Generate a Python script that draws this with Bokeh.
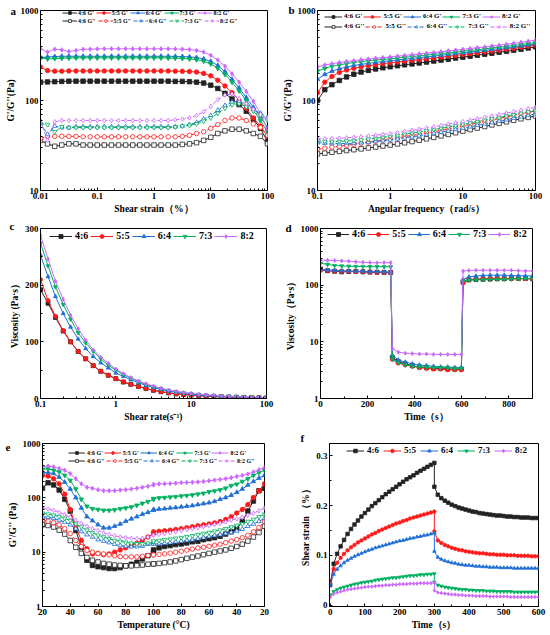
from bokeh.plotting import figure
from bokeh.layouts import column, row
from bokeh.models import (Range1d, FixedTicker, CustomJSTickFormatter, Legend,
                          LegendItem)
from bokeh.embed import file_html
from bokeh.resources import INLINE

SERIF = "Liberation Serif"

ratios = ["4:6", "5:5", "6:4", "7:3", "8:2"]
colors = ["#222222", "#FF1A1A", "#1F6FD6", "#00B060", "#CC66FF"]
markers = ["square", "circle", "triangle", "inverted_triangle", "diamond"]

# ---------------- panel a : strain sweep ----------------
strain_a = [0.01, 0.0133, 0.0178, 0.0237, 0.0316, 0.0422, 0.0562, 0.075, 0.1,
            0.133, 0.178, 0.237, 0.316, 0.422, 0.562, 0.75, 1, 1.33, 1.78, 2.37,
            3.16, 4.22, 5.62, 7.5, 10, 13.3, 17.8, 23.7, 31.6, 42.2, 56.2, 75, 100]
a_gp_46 = [160, 161, 162, 163, 164, 164, 164, 164, 164, 164, 164, 164, 164, 164, 164, 164, 164,
           164, 164, 163, 163, 162, 160, 156, 148, 136, 120, 104, 90, 76, 62, 49, 35]
a_gp_55 = [235, 215, 212, 212, 213, 213, 213, 213, 213, 213, 213, 213, 213, 213, 213, 213, 213,
           213, 213, 212, 211, 210, 207, 200, 188, 168, 145, 122, 100, 82, 64, 52, 40]
a_gp_64 = [300, 305, 308, 310, 310, 310, 310, 310, 310, 310, 310, 310, 310, 310, 310, 310, 310,
           310, 310, 309, 308, 305, 300, 290, 272, 245, 210, 172, 138, 108, 84, 66, 50]
a_gp_73 = [298, 290, 292, 295, 296, 297, 297, 297, 297, 297, 297, 297, 297, 297, 297, 297, 297,
           297, 296, 295, 293, 290, 284, 273, 255, 228, 195, 160, 128, 100, 78, 60, 45]
a_gp_82 = [375, 345, 372, 365, 350, 360, 370, 372, 374, 375, 375, 375, 375, 375, 375, 375, 375,
           375, 375, 374, 372, 368, 360, 345, 318, 282, 240, 198, 160, 126, 98, 72, 48]
a_gpp_46 = [36, 33, 31, 32, 33, 33, 32, 32, 32, 32, 32, 32, 32, 32, 32, 32, 32,
            32, 32, 32, 32.5, 33, 34, 36, 39, 43, 46, 48, 48, 46, 43, 40, 33]
a_gpp_55 = [38, 40, 40, 40, 40, 40, 39.5, 39.5, 39.5, 39.5, 39.5, 39.5, 39.5, 39.5, 39.5, 39.5, 39.5,
            39.5, 39.5, 39.5, 40, 41, 43, 45, 49, 54, 60, 64, 64, 60, 55, 50, 41]
a_gpp_64 = [56, 42, 52, 50, 50, 51, 51, 51, 51, 51, 51, 51, 51, 51, 51, 51, 51,
            51, 51, 51, 52, 54, 57, 62, 68, 78, 88, 96, 98, 90, 80, 72, 65]
a_gpp_73 = [55, 54, 45, 51, 50, 50, 50, 50, 50, 50, 50, 50, 50, 50, 50, 50, 50,
            50, 50, 51, 52, 53, 55, 59, 64, 72, 82, 90, 92, 85, 76, 68, 60]
a_gpp_82 = [60, 36, 58, 60, 60, 60, 60, 60, 60, 60, 60, 60, 60, 60, 60, 60, 60,
            60, 60, 61, 62, 64, 68, 75, 86, 102, 115, 118, 105, 92, 80, 70, 63]

# ---------------- panel b : frequency sweep ----------------
freq_b = [0.1, 0.126, 0.158, 0.2, 0.251, 0.316, 0.398, 0.501, 0.631, 0.794, 1, 1.26, 1.58,
          2, 2.51, 3.16, 3.98, 5.01, 6.31, 7.94, 10, 12.6, 15.8, 20, 25.1, 31.6, 39.8,
          50.1, 63.1, 79.4, 100]
b_gp_46 = [100, 132, 150, 167, 183, 196, 207, 216, 224, 231, 237, 243, 249, 255, 261, 267,
           274, 281, 288, 296, 303, 311, 319, 327, 335, 344, 352, 361, 372, 383, 395]
b_gp_55 = [122, 160, 185, 205, 218, 228, 237, 244, 250, 256, 262, 268, 273, 279, 285, 291,
           297, 303, 310, 317, 324, 331, 338, 346, 354, 362, 371, 380, 390, 401, 413]
b_gp_64 = [172, 195, 212, 225, 236, 245, 252, 259, 265, 271, 277, 283, 288, 294, 300, 306,
           312, 318, 325, 332, 339, 346, 353, 361, 369, 377, 386, 395, 405, 415, 426]
b_gp_73 = [212, 228, 240, 249, 257, 264, 270, 276, 281, 286, 291, 296, 302, 308, 313, 319,
           326, 332, 338, 345, 352, 359, 367, 375, 383, 391, 400, 409, 419, 429, 440]
b_gp_82 = [236, 248, 256, 264, 271, 277, 283, 289, 294, 300, 305, 311, 317, 323, 329, 335,
           342, 349, 356, 363, 370, 378, 386, 394, 403, 412, 422, 432, 443, 455, 468]
b_gpp_46 = [25.5, 26.0, 26.6, 27.2, 27.8, 28.4, 29.0, 29.7, 30.4, 31.2, 32.0, 32.9, 33.9,
            35.0, 36.2, 37.5, 38.9, 40.4, 42.0, 43.8, 45.7, 47.5, 49.4, 51.4, 53.5, 55.7,
            58.0, 60.3, 62.6, 64.9, 67.3]
b_gpp_55 = [28.8, 29.5, 30.3, 31.0, 31.8, 32.6, 33.5, 34.4, 35.3, 36.3, 37.4, 38.5, 39.7,
            40.9, 42.2, 43.6, 45.1, 46.7, 48.4, 50.2, 52.1, 54.1, 56.2, 58.4, 60.7, 63.1,
            65.6, 68.2, 70.9, 73.8, 76.8]
b_gpp_64 = [34.0, 33.6, 33.3, 33.2, 33.3, 33.6, 34.0, 34.5, 35.1, 35.8, 36.6, 37.5, 38.5,
            39.5, 40.6, 41.8, 43.1, 44.5, 46.0, 47.6, 49.3, 51.1, 53.0, 54.9, 56.9, 59.0,
            61.2, 63.5, 65.9, 68.4, 71.0]
b_gpp_73 = [35.5, 35.2, 35.0, 35.1, 35.4, 35.9, 36.5, 37.2, 38.0, 38.9, 39.9, 41.0, 42.2,
            43.4, 44.7, 46.1, 47.6, 49.2, 50.9, 52.6, 54.4, 56.3, 58.3, 60.4, 62.6, 64.8,
            67.1, 69.5, 72.0, 74.5, 77.1]
b_gpp_82 = [37.5, 37.6, 37.8, 38.1, 38.5, 39.0, 39.6, 40.3, 41.1, 42.0, 43.0, 44.1, 45.3,
            46.6, 48.0, 49.5, 51.1, 52.8, 54.6, 56.5, 58.5, 60.6, 62.8, 65.1, 67.5, 70.0,
            72.6, 75.3, 78.1, 81.0, 84.0]

# ---------------- panel c : viscosity vs shear rate ----------------
rate_c = [0.1, 0.126, 0.158, 0.2, 0.251, 0.316, 0.398, 0.501, 0.631, 0.794, 1, 1.26, 1.58,
          2, 2.51, 3.16, 3.98, 5.01, 6.31, 7.94, 10, 12.6, 15.8, 20, 25.1, 31.6, 39.8,
          50.1, 63.1, 79.4, 100]
c_46 = [192, 168, 143, 119, 100, 83, 70, 58, 48, 41, 35, 29, 25, 21, 17.5, 14.5, 12, 10,
        8.2, 7, 6, 5, 4.2, 3.5, 3, 2.5, 2.1, 1.8, 1.5, 1.3, 1.1]
c_55 = [210, 173, 145, 120, 100, 83, 70, 58, 48, 41, 35, 29.5, 25, 21, 17.5, 14.5, 12, 10,
        8.3, 7, 6, 5, 4.2, 3.5, 3, 2.5, 2.1, 1.8, 1.5, 1.3, 1.1]
c_64 = [253, 215, 180, 150, 126, 105, 88, 74, 63, 54, 45, 39, 33, 28, 23, 19, 16, 13, 11,
        9.2, 7.8, 6.5, 5.5, 4.6, 3.9, 3.3, 2.8, 2.4, 2.0, 1.7, 1.4]
c_73 = [274, 234, 197, 166, 140, 116, 98, 83, 70, 59, 50, 42, 36, 30, 25, 21, 17.5, 14.5,
        12, 10, 8.5, 7, 6, 5, 4.2, 3.5, 3, 2.5, 2.1, 1.8, 1.5]
c_82 = [288, 246, 207, 175, 147, 123, 103, 86, 73, 62, 52, 44, 37, 31, 26, 22, 18, 15,
        12.5, 10.5, 9, 7.5, 6.3, 5.3, 4.4, 3.7, 3.1, 2.6, 2.2, 1.9, 1.6]

# ---------------- panel d : three-interval thixotropy ----------------
time_d = [0, 30, 60, 90, 120, 150, 180, 210, 240, 270, 298,
          305, 330, 360, 390, 420, 450, 480, 510, 540, 570, 598,
          605, 630, 660, 690, 720, 750, 780, 810, 840, 870, 900]
d_46 = [192, 180, 176, 172, 174, 175, 172, 170, 169, 168, 168,
        5.3, 4.5, 4.1, 3.8, 3.6, 3.5, 3.4, 3.4, 3.3, 3.3, 3.3,
        115, 124, 126, 127, 128, 130, 130, 132, 131, 131, 130]
d_55 = [182, 180, 178, 176, 175, 173, 172, 170, 168, 167, 165,
        4.9, 4.2, 3.9, 3.7, 3.5, 3.4, 3.3, 3.3, 3.2, 3.2, 3.2,
        108, 125, 128, 130, 131, 131, 131, 130, 130, 130, 128]
d_64 = [190, 185, 182, 180, 178, 176, 175, 173, 172, 171, 170,
        5.8, 4.8, 4.4, 4.1, 3.9, 3.8, 3.7, 3.6, 3.6, 3.5, 3.5,
        125, 140, 145, 148, 150, 150, 150, 148, 147, 146, 145]
d_73 = [245, 232, 222, 218, 216, 214, 213, 212, 212, 211, 211,
        5.0, 4.3, 3.9, 3.7, 3.6, 3.6, 3.5, 3.5, 3.5, 3.4, 3.4,
        118, 122, 124, 125, 126, 127, 128, 128, 130, 130, 132]
d_82 = [278, 275, 272, 268, 265, 258, 253, 250, 248, 250, 250,
        7.6, 6.6, 6.3, 6.2, 6.1, 6.1, 6.0, 6.0, 6.0, 6.0, 6.0,
        178, 182, 183, 183, 183, 183, 183, 183, 180, 178, 178]

# ---------------- panel e : temperature sweep (heating 20->100, cooling 100->20) ----------------
heat_T = [20, 24, 28, 32, 36, 40, 44, 48, 52, 56, 60, 64, 68, 72, 76, 80, 84, 88, 92, 96, 100]
cool_T = [100, 96, 92, 88, 84, 80, 76, 72, 68, 64, 60, 56, 52, 48, 44, 40, 36, 32, 28, 24, 20]
e_gp_46 = [150, 189, 173, 139, 94, 57, 25, 12.3, 7.1, 5.7, 5.4, 5.2, 5.0, 5.0, 5.2, 5.6, 6.0, 6.5, 7.5, 8.6, 10,
           11, 12, 12.7, 13.2, 13.8, 14.2, 14.8, 15.5, 15.9, 17, 17.7, 18.5, 19.6, 21.5, 23.7, 27, 36.6, 57, 87, 135, 150]
e_gp_55 = [259, 252, 224, 181, 117, 61, 29, 16.4, 11.5, 9.3, 9.5, 9.0, 9.3, 10, 11, 12, 13.2, 14.6, 16.4, 19, 22,
           23.7, 24.2, 24.8, 25.4, 26.2, 27, 28.2, 29.4, 30.6, 31.8, 33, 34.5, 36.5, 40, 45, 52.5, 61, 75, 101, 135, 181]
e_gp_64 = [292, 292, 280, 241, 194, 145, 101, 65, 45, 38, 32, 28, 28, 30, 33, 37, 41, 45, 50, 54, 59,
           61, 62, 63, 65, 66, 68, 70, 72, 75, 78, 81, 86, 94, 101, 112, 126, 145, 172, 200, 231, 259]
e_gp_73 = [337, 340, 322, 300, 259, 209, 145, 94, 70, 63, 61, 59, 59, 60, 63, 65, 68, 73, 79, 85, 94,
           97, 100, 101, 103, 105, 108, 110, 113, 117, 121, 129, 134, 140, 150, 168, 178, 200, 224, 259, 291, 322]
e_gp_82 = [372, 385, 372, 347, 322, 279, 224, 181, 156, 150, 141, 135, 135, 135, 139, 141, 145, 150, 156, 163, 172,
           178, 180, 181, 183, 186, 190, 192, 194, 196, 200, 206, 212, 218, 224, 235, 248, 259, 274, 300, 330, 360]
e_gpp_46 = [32, 31, 29, 25.4, 21.5, 16.4, 12.3, 9.5, 8, 7.1, 6.6, 6.2, 6.0, 5.8, 5.7, 5.6, 5.6, 5.7, 5.8, 6.0, 6.1,
            6.1, 6.2, 6.4, 6.6, 6.9, 7.3, 7.7, 8.1, 8.5, 9, 9.5, 10, 10.5, 11, 11.8, 12.7, 14, 16, 19, 23, 30]
e_gpp_55 = [39, 37, 35, 32, 27, 22, 16.4, 12.7, 10.7, 10, 9.5, 9.3, 8.9, 8.6, 8.3, 8.2, 8.2, 8.2, 8.4, 8.7, 8.9,
            8.9, 9.1, 9.3, 9.6, 10, 10.4, 10.9, 11.4, 11.9, 12.3, 12.8, 13.4, 14, 15, 16, 17, 18.5, 20.5, 23.7, 28.5, 36.6]
e_gpp_64 = [45, 44, 42, 39, 36, 32, 27, 24, 21, 19, 17, 16, 15, 14, 13.2, 12.8, 12.6, 12.6, 12.9, 14, 14.6,
            14, 14.4, 14.6, 15, 15.5, 16, 16.4, 17, 17.7, 18.5, 19.4, 20.2, 21, 22, 23, 24.5, 26.5, 30, 33, 37, 42]
e_gpp_73 = [52, 50, 48, 45, 42, 38, 33, 29, 25.4, 22.6, 20.5, 19, 17.7, 16.4, 15.8, 15.2, 14.6, 14.2, 14.2, 14.6, 15.4,
            16, 16.4, 17, 17.4, 18, 18.5, 19.2, 20, 21, 22, 23, 24.3, 25.4, 27, 29, 31, 33, 36.6, 40, 45, 50]
e_gpp_82 = [65, 62, 59, 54, 49, 44, 39, 34, 30, 27, 25, 22.6, 21, 20, 19, 18.5, 18, 17.7, 18, 19, 20.5,
            20.5, 21.2, 22, 22.8, 23.8, 25, 26, 27, 28.2, 29.5, 31, 32.5, 34, 36, 39, 41, 44, 48, 52, 58, 65]
e_tick_labels = ["20", "40", "60", "80", "100", "80", "60", "40", "20"]

# ---------------- panel f : creep and recovery ----------------
time_f = [0, 10, 20, 30, 40, 50, 60, 70, 80, 90, 100, 110, 120, 130, 140, 150, 160, 170, 180,
          190, 200, 210, 220, 230, 240, 250, 260, 270, 280, 290, 300,
          300, 310, 320, 330, 340, 350, 360, 370, 380, 390, 400, 410, 420, 430, 440, 450, 460,
          470, 480, 490, 500, 510, 520, 530, 540, 550, 560, 570, 580, 590, 600]
f_46 = [0.040, 0.083, 0.103, 0.118, 0.131, 0.143, 0.153, 0.162, 0.170, 0.178, 0.185, 0.192,
        0.199, 0.205, 0.211, 0.217, 0.223, 0.228, 0.233, 0.238, 0.243, 0.248, 0.253, 0.257,
        0.261, 0.266, 0.270, 0.274, 0.278, 0.282, 0.286,
        0.238, 0.222, 0.215, 0.210, 0.206, 0.202, 0.199, 0.196, 0.194, 0.192, 0.190, 0.188,
        0.187, 0.185, 0.184, 0.183, 0.182, 0.181, 0.180, 0.180, 0.179, 0.178, 0.178, 0.177,
        0.177, 0.176, 0.176, 0.176, 0.175, 0.175, 0.175]
f_55 = [0.045, 0.072, 0.085, 0.095, 0.103, 0.110, 0.116, 0.121, 0.126, 0.130, 0.134, 0.138,
        0.142, 0.145, 0.149, 0.152, 0.155, 0.158, 0.161, 0.164, 0.166, 0.169, 0.171, 0.174,
        0.176, 0.178, 0.180, 0.182, 0.184, 0.186, 0.188,
        0.148, 0.130, 0.125, 0.121, 0.118, 0.115, 0.113, 0.111, 0.110, 0.108, 0.107, 0.106,
        0.105, 0.104, 0.104, 0.103, 0.102, 0.102, 0.101, 0.101, 0.101, 0.100, 0.100, 0.100,
        0.099, 0.099, 0.099, 0.099, 0.098, 0.098, 0.098]
f_64 = [0.040, 0.062, 0.072, 0.079, 0.085, 0.090, 0.094, 0.098, 0.101, 0.104, 0.107, 0.110,
        0.112, 0.115, 0.117, 0.119, 0.121, 0.123, 0.125, 0.127, 0.129, 0.130, 0.132, 0.134,
        0.135, 0.137, 0.138, 0.140, 0.141, 0.143, 0.145,
        0.108, 0.096, 0.092, 0.089, 0.087, 0.085, 0.084, 0.082, 0.081, 0.080, 0.080, 0.079,
        0.078, 0.078, 0.077, 0.077, 0.076, 0.076, 0.076, 0.075, 0.075, 0.075, 0.075, 0.074,
        0.074, 0.074, 0.074, 0.074, 0.074, 0.074, 0.074]
f_73 = [0.020, 0.027, 0.031, 0.034, 0.036, 0.038, 0.040, 0.042, 0.043, 0.045, 0.046, 0.047,
        0.048, 0.050, 0.051, 0.052, 0.053, 0.054, 0.055, 0.055, 0.056, 0.057, 0.058, 0.059,
        0.059, 0.060, 0.061, 0.061, 0.062, 0.062, 0.063,
        0.046, 0.040, 0.038, 0.036, 0.035, 0.034, 0.033, 0.032, 0.031, 0.031, 0.030, 0.030,
        0.029, 0.029, 0.029, 0.028, 0.028, 0.028, 0.027, 0.027, 0.027, 0.027, 0.027, 0.026,
        0.026, 0.026, 0.026, 0.026, 0.026, 0.026, 0.026]
f_82 = [0.015, 0.022, 0.025, 0.027, 0.029, 0.031, 0.032, 0.033, 0.034, 0.035, 0.036, 0.037,
        0.037, 0.038, 0.039, 0.039, 0.040, 0.040, 0.041, 0.041, 0.042, 0.042, 0.042, 0.043,
        0.043, 0.043, 0.044, 0.044, 0.044, 0.044, 0.045,
        0.029, 0.025, 0.024, 0.023, 0.022, 0.021, 0.021, 0.020, 0.020, 0.019, 0.019, 0.019,
        0.018, 0.018, 0.018, 0.018, 0.017, 0.017, 0.017, 0.017, 0.017, 0.017, 0.016, 0.016,
        0.016, 0.016, 0.016, 0.016, 0.016, 0.016, 0.016]


# ======================= helpers =======================
def log_ticks(decades):
    minors = [m * d for d in decades[:-1] for m in range(2, 10)]
    return FixedTicker(ticks=decades, minor_ticks=minors)


def make_fig(w, h, bl, br, bt, bb, xr, yr, xtype="linear", ytype="linear"):
    p = figure(width=w, height=h, x_range=xr, y_range=yr, x_axis_type=xtype,
               y_axis_type=ytype, output_backend="svg", toolbar_location=None,
               min_border_left=bl, min_border_right=br, min_border_top=bt,
               min_border_bottom=bb)
    p.grid.visible = False
    p.outline_line_color = "black"
    p.outline_line_width = 1
    p.background_fill_color = "white"
    p.border_fill_color = "white"
    for ax in (p.xaxis[0], p.yaxis[0]):
        ax.axis_line_color = "black"
        ax.major_tick_in = 3
        ax.major_tick_out = 0
        ax.minor_tick_in = 2
        ax.minor_tick_out = 0
        ax.major_tick_line_color = "black"
        ax.minor_tick_line_color = "black"
        ax.major_label_text_font = SERIF
        ax.major_label_text_font_style = "bold"
        ax.major_label_text_font_size = "9px"
        ax.major_label_text_color = "black"
        ax.major_label_standoff = 2
        ax.axis_label_text_font = SERIF
        ax.axis_label_text_font_style = "bold"
        ax.axis_label_text_font_size = "9.5px"
        ax.axis_label_text_color = "black"
        ax.axis_label_standoff = 2
    return p


def add_series(p, x, y, color, marker, size, filled, dash="solid"):
    ln = p.line(x, y, line_color=color, line_width=1, line_dash=dash)
    sc = p.scatter(x, y, marker=marker, size=size, line_color=color, line_width=0.8,
                   fill_color=color if filled else "white")
    return [ln, sc]


def add_legend(p, items, x, y, font_size, glyph_w, spacing, standoff=2, gh=7):
    lg = Legend(items=items, location=(x, y), orientation="horizontal",
                label_text_font=SERIF, label_text_font_style="bold",
                label_text_font_size=font_size, label_text_color="black",
                glyph_width=glyph_w, glyph_height=gh, label_height=gh, label_width=0,
                label_standoff=standoff, spacing=spacing, padding=0, margin=0,
                border_line_alpha=0, background_fill_alpha=0)
    p.add_layout(lg)


def add_letter(p, letter, offset, standoff):
    # panel letter drawn through the figure's own title, shifted beside the frame
    p.title.text = letter
    p.title.align = "left"
    p.title.vertical_align = "bottom"
    p.title.offset = offset
    p.title.standoff = standoff
    p.title.text_font = SERIF
    p.title.text_font_style = "bold"
    p.title.text_font_size = "11px"
    p.title.text_color = "black"


# ======================= panel a =======================
pa = make_fig(275, 216, 40, 8, 10, 25, Range1d(0.01, 100), Range1d(10, 1000), "log", "log")
pa.xaxis.ticker = FixedTicker(ticks=[0.01, 0.1, 1, 10, 100],
                              minor_ticks=[m * d for d in [0.01, 0.1, 1, 10] for m in range(2, 10)])
pa.yaxis.ticker = log_ticks([10, 100, 1000])
fmt = "return String(tick)"
pa.xaxis.formatter = CustomJSTickFormatter(code=fmt)
pa.yaxis.formatter = CustomJSTickFormatter(code=fmt)
pa.xaxis.axis_label = "Shear strain（%）"
pa.yaxis.axis_label = "G'/G''(Pa)"
a_gp = [a_gp_46, a_gp_55, a_gp_64, a_gp_73, a_gp_82]
a_gpp = [a_gpp_46, a_gpp_55, a_gpp_64, a_gpp_73, a_gpp_82]
items1, items2 = [], []
for i in range(5):
    r = add_series(pa, strain_a, a_gp[i], colors[i], markers[i], 4.5, True)
    items1.append(LegendItem(label=ratios[i] + " G'", renderers=r))
for i in range(5):
    r = add_series(pa, strain_a, a_gpp[i], colors[i], markers[i], 4.5, False,
                   "solid" if i == 0 else "4 2")
    items2.append(LegendItem(label=ratios[i] + " G''", renderers=r))
add_legend(pa, items1, 22, 174, "6px", 15, 2, 1)
add_legend(pa, items2, 22, 166, "6px", 15, 2, 1)
add_letter(pa, "a", -30, -13)

# ======================= panel b =======================
pb = make_fig(275, 216, 42, 15, 10, 25, Range1d(0.1, 100), Range1d(10, 1000), "log", "log")
pb.xaxis.ticker = log_ticks([0.1, 1, 10, 100])
pb.yaxis.ticker = log_ticks([10, 100, 1000])
pb.xaxis.formatter = CustomJSTickFormatter(code=fmt)
pb.yaxis.formatter = CustomJSTickFormatter(code=fmt)
pb.xaxis.axis_label = "Angular frequency（rad/s）"
pb.yaxis.axis_label = "G'/G''(Pa)"
b_gp = [b_gp_46, b_gp_55, b_gp_64, b_gp_73, b_gp_82]
b_gpp = [b_gpp_46, b_gpp_55, b_gpp_64, b_gpp_73, b_gpp_82]
items1, items2 = [], []
for i in range(5):
    r = add_series(pb, freq_b, b_gp[i], colors[i], markers[i], 4.5, True)
    items1.append(LegendItem(label=ratios[i] + " G'", renderers=r))
for i in range(5):
    r = add_series(pb, freq_b, b_gpp[i], colors[i], markers[i], 4.5, False,
                   "solid" if i == 0 else "4 2")
    items2.append(LegendItem(label=ratios[i] + " G''", renderers=r))
add_legend(pb, items1, 7, 170, "7px", 18, 1, 2)
add_legend(pb, items2, 7, 160, "7px", 18, 1, 2)
add_letter(pb, "b", -29, -10)

# ======================= panel c =======================
pc = make_fig(275, 208, 40, 9, 12, 23, Range1d(0.1, 100), Range1d(0, 300), "log", "linear")
pc.xaxis.ticker = log_ticks([0.1, 1, 10, 100])
pc.xaxis.formatter = CustomJSTickFormatter(code=fmt)
pc.yaxis.ticker = FixedTicker(ticks=[0, 100, 200, 300], minor_ticks=[50, 150, 250])
pc.xaxis.axis_label = "Shear rate(s⁻¹)"
pc.yaxis.axis_label = "Viscosity (Pa·s）"
c_all = [c_46, c_55, c_64, c_73, c_82]
items = []
for i in range(5):
    r = add_series(pc, rate_c, c_all[i], colors[i], markers[i], 4, True)
    items.append(LegendItem(label=ratios[i], renderers=r))
add_legend(pc, items, 9, 157, "10px", 23, 2, 3, 10)
add_letter(pc, "c", -31, -7)

# ======================= panel d =======================
pd_ = make_fig(275, 208, 45, 18, 12, 23, Range1d(0, 900), Range1d(1, 1000), "linear", "log")
pd_.xaxis.ticker = FixedTicker(ticks=[0, 200, 400, 600, 800], minor_ticks=[100, 300, 500, 700, 900])
pd_.yaxis.ticker = log_ticks([1, 10, 100, 1000])
pd_.yaxis.formatter = CustomJSTickFormatter(code=fmt)
pd_.xaxis.axis_label = "Time（s）"
pd_.yaxis.axis_label = "Viscosity（Pa·s）"
d_all = [d_46, d_55, d_64, d_73, d_82]
items = []
for i in range(5):
    r = add_series(pd_, time_d, d_all[i], colors[i], markers[i], 4, True)
    items.append(LegendItem(label=ratios[i], renderers=r))
add_legend(pd_, items, 7, 159, "10px", 22, 2, 3, 10)
add_letter(pd_, "d", -35, -11)

# ======================= panel e =======================
e_x = [t - 20 for t in heat_T] + [180 - t for t in cool_T]
pe = make_fig(275, 211, 42, 11, 19, 29, Range1d(0, 160), Range1d(1, 1000), "linear", "log")
pe.xaxis.ticker = FixedTicker(ticks=[0, 20, 40, 60, 80, 100, 120, 140, 160],
                              minor_ticks=[10, 30, 50, 70, 90, 110, 130, 150])
pe.xaxis.major_label_overrides = {k * 20: lab for k, lab in enumerate(e_tick_labels)}
pe.yaxis.ticker = log_ticks([1, 10, 100, 1000])
pe.yaxis.formatter = CustomJSTickFormatter(code=fmt)
pe.xaxis.axis_label = "Temperature (°C)"
pe.yaxis.axis_label = "G'/G'' (Pa)"
e_gp = [e_gp_46, e_gp_55, e_gp_64, e_gp_73, e_gp_82]
e_gpp = [e_gpp_46, e_gpp_55, e_gpp_64, e_gpp_73, e_gpp_82]
items1, items2 = [], []
for i in range(5):
    r = add_series(pe, e_x, e_gp[i], colors[i], markers[i], 4.5, True)
    items1.append(LegendItem(label=ratios[i] + " G'", renderers=r))
for i in range(5):
    r = add_series(pe, e_x, e_gpp[i], colors[i], markers[i], 4.5, False,
                   "solid" if i == 0 else "4 2")
    items2.append(LegendItem(label=ratios[i] + " G''", renderers=r))
add_legend(pe, items1, 26, 150, "6px", 17, 1, 2)
add_legend(pe, items2, 26, 142, "6px", 17, 1, 2)
add_letter(pe, "e", -37, -14)

# ======================= panel f =======================
pf = make_fig(275, 211, 54, 12, 19, 29, Range1d(-2, 600), Range1d(-0.003, 0.325))
pf.xaxis.ticker = FixedTicker(ticks=[0, 100, 200, 300, 400, 500, 600],
                              minor_ticks=[50, 150, 250, 350, 450, 550])
pf.yaxis.ticker = FixedTicker(ticks=[0, 0.1, 0.2, 0.3], minor_ticks=[0.05, 0.15, 0.25])
pf.xaxis.axis_label = "Time（s）"
pf.yaxis.axis_label = "Shear strain （%）"
f_all = [f_46, f_55, f_64, f_73, f_82]
items = []
for i in range(5):
    r = add_series(pf, time_f, f_all[i], colors[i], markers[i], 3.5, True)
    items.append(LegendItem(label=ratios[i], renderers=r))
add_legend(pf, items, 17, 151, "9px", 18, 4, 3, 9)
add_letter(pf, "f", -29, -1)

layout = column(row(pa, pb), row(pc, pd_), row(pe, pf))
open("out.html", "w").write(file_html(layout, INLINE))
